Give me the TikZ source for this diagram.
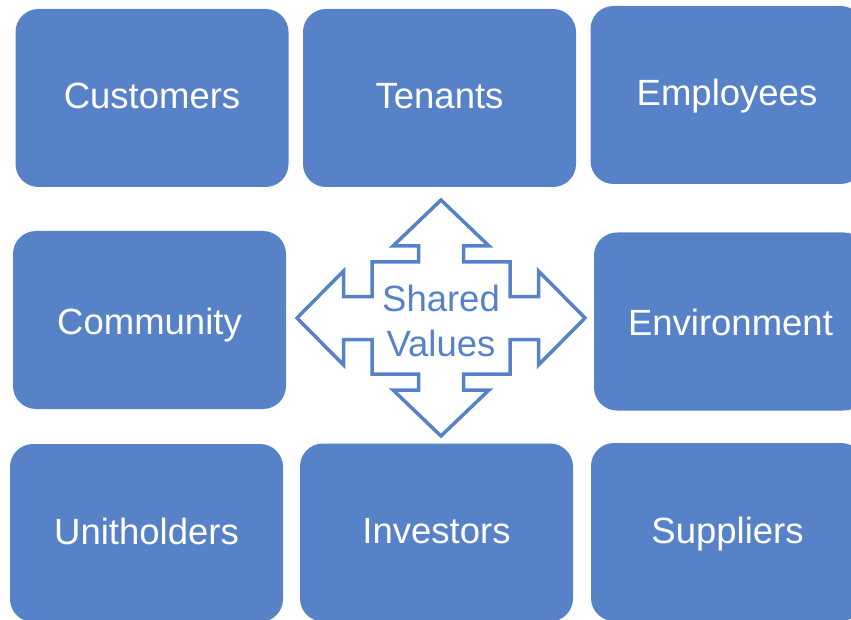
\documentclass[tikz,border=0pt]{standalone}
\usepackage{fontspec}
\setmainfont{Liberation Sans}
\usepackage{tikz}
\definecolor{boxblue}{RGB}{87,130,200}
\newcommand{\bw}{273pt}
\newcommand{\bh}{178pt}
\tikzset{
  stake/.style={fill=boxblue, draw=none, rounded corners=23pt, inner sep=0pt,
    minimum width=\bw, minimum height=\bh, text=white,
    text height=28pt, text depth=6pt,
    font=\fontsize{36.5}{40}\selectfont},
  quadarrow/.style={draw=boxblue, fill=white, line width=3.5pt, line join=miter},
  sharedtext/.style={text=boxblue, align=center,
    font=\fontsize{36.5}{45}\selectfont}
}
\begin{document}
\begin{tikzpicture}[x=1pt,y=-1pt]
\useasboundingbox (0,0) rectangle (851,620);
\clip (0,0) rectangle (851,620);
% top row
\node[stake] (cust) at (152,98) {Customers};
\node[stake] (ten) at (439.5,98) {Tenants};
\node[stake] (emp) at (727,95) {Employees};
% middle row
\node[stake,text height=34pt] (comm) at (149.5,320) {Community};
\node[stake,text height=34pt] (env) at (730.5,321.5) {Environment};
% bottom row
\node[stake] (unit) at (146.5,533) {Unitholders};
\node[stake] (inv) at (436.5,532.5) {Investors};
\node[stake] (sup) at (727.5,532) {Suppliers};
% four-way arrow
\coordinate (sv) at (441,318);
\draw[quadarrow,shift={(sv)}] (0,-118) -- (48,-72) -- (22.5,-72) -- (22.5,-56)
  -- (69,-56) -- (69,-21.5) -- (97.5,-21.5) -- (97.5,-47) -- (144,0)
  -- (97.5,47) -- (97.5,21.5) -- (69,21.5) -- (69,56) -- (22.5,56)
  -- (22.5,72) -- (48,72) -- (0,118) -- (-48,72) -- (-22.5,72)
  -- (-22.5,56) -- (-69,56) -- (-69,21.5) -- (-97.5,21.5) -- (-97.5,47)
  -- (-144,0) -- (-97.5,-47) -- (-97.5,-21.5) -- (-69,-21.5) -- (-69,-56)
  -- (-22.5,-56) -- (-22.5,-72) -- (-48,-72) -- cycle;
\node[sharedtext] (shared) at (441,320.5) {Shared\\Values};
\end{tikzpicture}
\end{document}
